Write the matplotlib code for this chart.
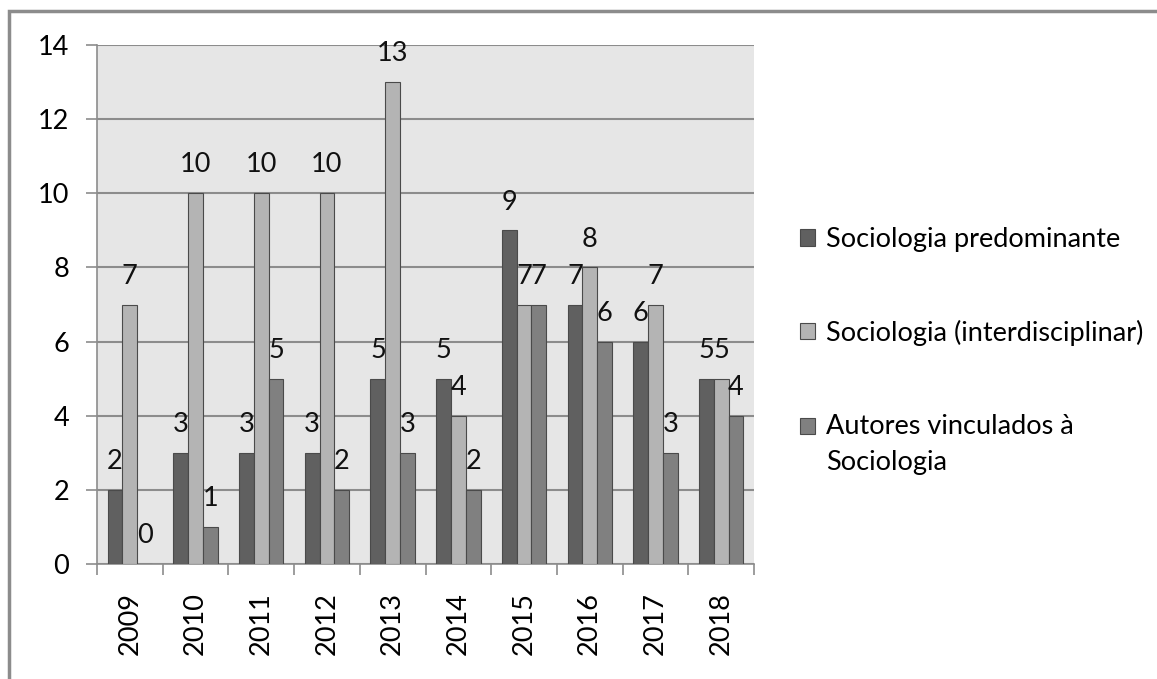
import numpy as np
import matplotlib
matplotlib.use('Agg')
import matplotlib.pyplot as plt
from matplotlib.patches import Rectangle
from matplotlib.legend_handler import HandlerPatch

years = ['2009', '2010', '2011', '2012', '2013', '2014', '2015', '2016', '2017', '2018']
predominante = [2, 3, 3, 3, 5, 5, 9, 7, 6, 5]
interdisciplinar = [7, 10, 10, 10, 13, 4, 7, 8, 7, 5]
vinculados = [0, 1, 5, 2, 3, 2, 7, 6, 3, 4]
series_names = ['Sociologia predominante', 'Sociologia (interdisciplinar)',
                'Autores vinculados à\nSociologia']
colors = ['#606060', '#b4b4b4', '#808080']

plt.rcParams['font.family'] = ['Lato', 'DejaVu Sans']
fs = 19.5

W, H = 1157, 679
fig = plt.figure(figsize=(W / 100, H / 100), dpi=100)
ax = fig.add_axes([97 / W, 1 - 564 / H, (754 - 97) / W, (564 - 45) / H])
ax.set_facecolor('#e6e6e6')

x = np.arange(len(years))
bw = 0.225
bars = []
for i, (vals, c, name) in enumerate(zip([predominante, interdisciplinar, vinculados], colors, series_names)):
    xs = x + (i - 1) * bw
    b = ax.bar(xs, vals, width=bw, color=c, edgecolor='#4a4a4a', linewidth=0.8, label=name, zorder=3)
    bars.append(b)
    for xi, v in zip(xs, vals):
        ax.annotate(str(v), (xi, v), xytext=(0, 15), textcoords='offset points',
                    ha='center', va='baseline', fontsize=fs, color='#111111', zorder=4)

ax.set_xlim(-0.5, len(years) - 0.5)
ax.set_ylim(0, 14)
ax.set_yticks(range(0, 15, 2))
ax.yaxis.grid(True, color='#8c8c8c', linewidth=1.5, zorder=1)
ax.set_axisbelow(True)

ax.set_xticks(np.arange(-0.5, len(years), 1))
ax.set_xticklabels([])
ax.set_xticks(x, minor=True)
ax.set_xticklabels(years, minor=True, rotation=90, fontsize=fs)
ax.tick_params(axis='x', which='major', length=8, color='#8c8c8c', width=1.2)
ax.tick_params(axis='x', which='minor', length=0, pad=20)
ax.tick_params(axis='y', length=8, color='#8c8c8c', width=1.2, labelsize=fs, pad=12)

for s in ['top', 'right']:
    ax.spines[s].set_visible(False)
for s in ['left', 'bottom']:
    ax.spines[s].set_color('#8c8c8c')
    ax.spines[s].set_linewidth(1.2)


# square legend key; the two-line entry gets its key next to the first line
def square(shift):
    def make(legend, orig_handle, xdescent, ydescent, width, height, fontsize):
        return Rectangle((-xdescent, -ydescent + shift), width, height)
    return make


handles = [b[0] for b in bars]
shifts = [0, 0, 0.68 * fs]
handler_map = {h: HandlerPatch(patch_func=square(s)) for h, s in zip(handles, shifts)}
leg = fig.legend(handles=handles, labels=series_names, loc='upper left',
                 bbox_to_anchor=(800 / W, 1 - 227 / H), frameon=False, borderpad=0,
                 borderaxespad=0, fontsize=fs, handlelength=0.55, handleheight=0.55,
                 handletextpad=0.4, labelspacing=2.5, handler_map=handler_map)
leg.get_texts()[2].set_linespacing(1.55)

fig.patches.append(Rectangle((9 / W, -0.05), 1.1, 1 - 11 / H + 0.05, transform=fig.transFigure,
                             fill=False, edgecolor='#8c8c8c', linewidth=2.5))

fig.savefig('out.png', dpi=100)
